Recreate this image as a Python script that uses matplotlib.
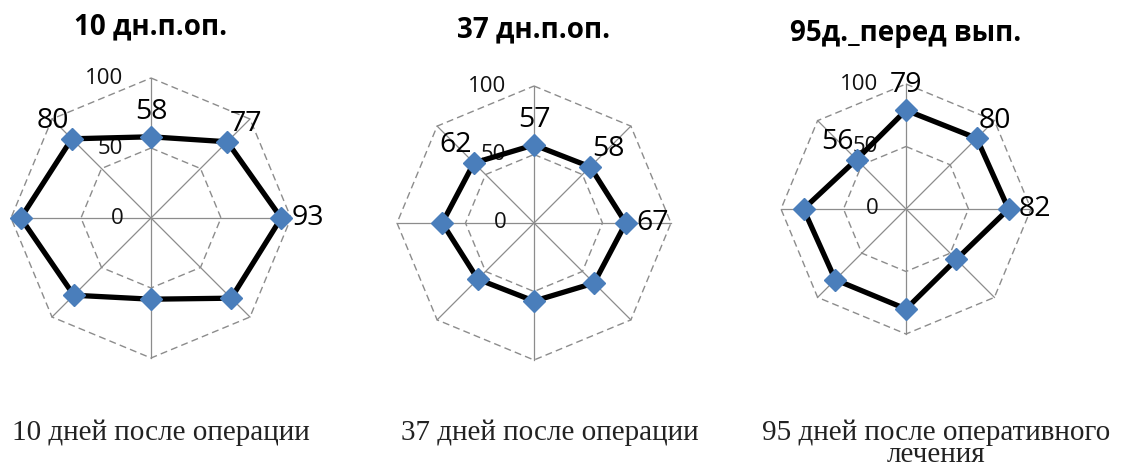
import numpy as np
import matplotlib
matplotlib.use("Agg")
import matplotlib.pyplot as plt

# eight directions, clockwise from the top (Excel radar order)
n_axes = 8
titles = ["10 дн.п.оп.", "37 дн.п.оп.", "95д._перед вып."]
captions = ["10 дней после операции", "37 дней после операции",
            "95 дней после оперативного\nлечения"]

vals_10 = [58, 77, 93, 81, 58, 78, 93, 80]
vals_37 = [57, 58, 67, 62, 57, 58, 67, 62]
vals_95 = [79, 80, 82, 57, 80, 80, 82, 56]
series = [vals_10, vals_37, vals_95]

labelled = [0, 1, 2, 7]      # only these points carry data labels
ring_ticks = [0, 50, 100]

# layout in pixels: (centre x, centre y from top, radius of the 100 ring)
W, H = 1121, 472
panels = [(151, 218, 140), (534, 223, 137), (906, 209, 125)]
title_y = [27, 30, 34]
caption_x = [161, 550, 936]

blue = "#4a7ebb"
grey = "#8c8c8c"
sans = ["Open Sans", "DejaVu Sans"]
serif = ["Liberation Serif", "DejaVu Serif"]

fig = plt.figure(figsize=(W / 100, H / 100), dpi=100)
theta = np.arange(n_axes) * 2 * np.pi / n_axes

for i, vals in enumerate(series):
    cx, cy, r = panels[i]
    ax = fig.add_axes([(cx - r) / W, (H - cy - r) / H, 2 * r / W, 2 * r / H],
                      projection="polar")
    ax.set_theta_zero_location("N")
    ax.set_theta_direction(-1)
    ax.set_ylim(0, 100)
    ax.grid(False)
    ax.set_xticks([])
    ax.set_yticks([])
    ax.spines["polar"].set_visible(False)
    ax.patch.set_visible(False)

    # spokes and dashed octagon rings
    for t in theta:
        ax.plot([t, t], [0, 100], color=grey, lw=0.9, zorder=1, clip_on=False)
    th_closed = np.append(theta, theta[0])
    for rv in [50, 100]:
        ax.plot(th_closed, [rv] * (n_axes + 1), color=grey, lw=1.0,
                ls=(0, (5, 3)), zorder=1, clip_on=False)

    # scale labels on the vertical axis
    for rv in ring_ticks:
        ax.annotate(str(rv), xy=(0, rv), xytext=(-20, 0), textcoords="offset points",
                    ha="right", va="center", fontsize=16, family=sans,
                    color="#111111", zorder=2, annotation_clip=False)

    v = np.array(vals, dtype=float)
    ax.plot(np.append(theta, theta[0]), np.append(v, v[0]), color="black",
            lw=3.8, zorder=3, clip_on=False)
    ax.plot(theta, v, ls="none", marker="D", ms=11.5, color=blue, zorder=4,
            clip_on=False)

    for k in labelled:
        dx = 19 * np.sin(theta[k])
        dy = 18 * np.cos(theta[k])
        ax.annotate(str(vals[k]), xy=(theta[k], v[k]), xytext=(dx, dy),
                    textcoords="offset points", ha="center", va="center",
                    fontsize=20.5, family=sans, color="black", zorder=5,
                    annotation_clip=False)

    fig.text(cx / W, 1 - title_y[i] / H, titles[i], ha="center", va="center",
             fontsize=20, fontweight="bold", family=sans)

fig.text(caption_x[0] / W, 1 - 440 / H, captions[0], ha="center", va="baseline",
         fontsize=21, family=serif, color="#222222")
fig.text(caption_x[1] / W, 1 - 440 / H, captions[1], ha="center", va="baseline",
         fontsize=21, family=serif, color="#222222")
fig.text(caption_x[2] / W, 1 - 420 / H, captions[2], ha="center", va="top",
         multialignment="center", linespacing=0.8,
         fontsize=21, family=serif, color="#222222")

fig.savefig("out.png", dpi=100, facecolor="white")
